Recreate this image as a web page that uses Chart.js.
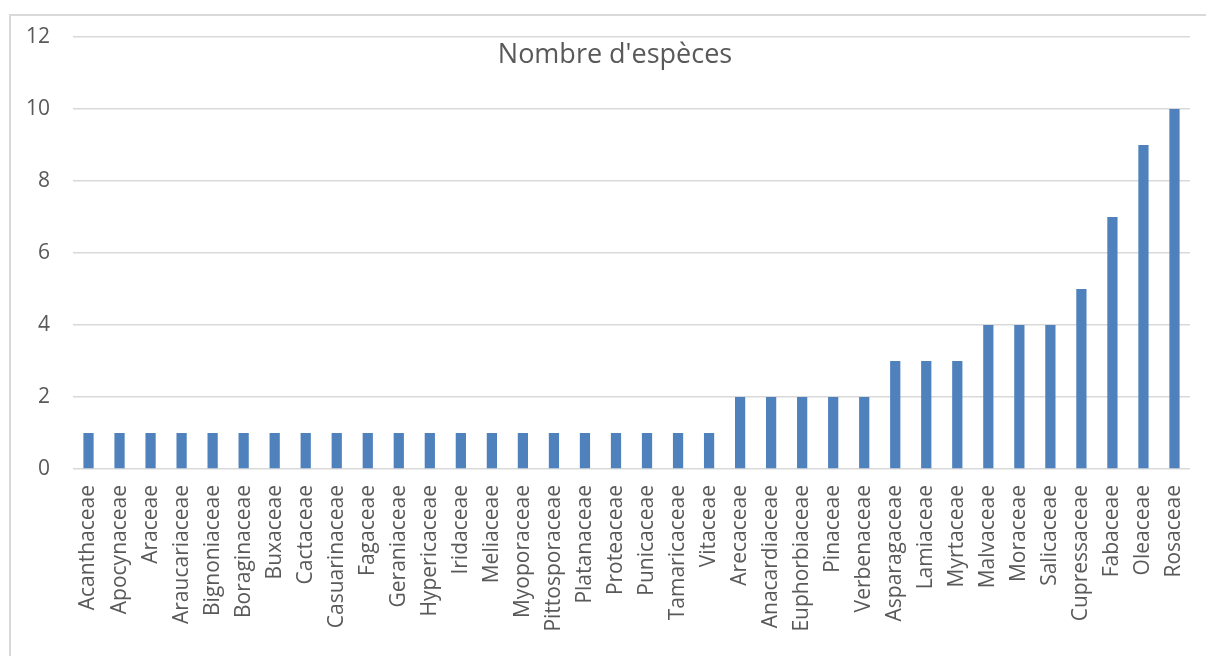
<!DOCTYPE html>
<html lang="fr">
<head>
  <meta charset="UTF-8" />
  <title>Nombre d'espèces par famille</title>
  <script src="https://cdn.jsdelivr.net/npm/chart.js@4"></script>
  <style>
    html, body { margin:0; padding:0; background:#fff; overflow:hidden; }
    #frame { position:absolute; left:9px; top:14px; width:1300px; height:800px; border:2px solid #d9d9d9; box-sizing:border-box; }
    #wrap { position:absolute; left:0; top:0; width:1206px; height:656px; }
  </style>
</head>
<body>
  <div id="frame"></div>
  <div id="wrap"><canvas id="chart"></canvas></div>

  <script>
    // familles (axe des x)
    const families = [
      'Acanthaceae','Apocynaceae','Araceae','Araucariaceae','Bignoniaceae','Boraginaceae',
      'Buxaceae','Cactaceae','Casuarinaceae','Fagaceae','Geraniaceae','Hypericaceae',
      'Iridaceae','Meliaceae','Myoporaceae','Pittosporaceae','Platanaceae','Proteaceae',
      'Punicaceae','Tamaricaceae','Vitaceae','Arecaceae','Anacardiaceae','Euphorbiaceae',
      'Pinaceae','Verbenaceae','Asparagaceae','Lamiaceae','Myrtaceae','Malvaceae',
      'Moraceae','Salicaceae','Cupressaceae','Fabaceae','Oleaceae','Rosaceae'
    ];
    // nombre d'espèces par famille
    const speciesCount = [
      1,1,1,1,1,1,
      1,1,1,1,1,1,
      1,1,1,1,1,1,
      1,1,1,2,2,2,
      2,2,3,3,3,4,
      4,4,5,7,9,10
    ];
    const yTicks = [0, 2, 4, 6, 8, 10, 12];
    const chartTitle = "Nombre d'espèces";

    const FONT = '"Open Sans", sans-serif';
    const TEXT = '#595959';

    // titre dessiné dans la zone du graphique (comme Excel)
    const titleInside = {
      id: 'titleInside',
      afterDraw(chart){
        const ctx = chart.ctx;
        ctx.save();
        ctx.font = '27px ' + FONT;
        ctx.fillStyle = TEXT;
        ctx.textAlign = 'center';
        ctx.textBaseline = 'middle';
        ctx.fillText(chartTitle, 615, 55);
        ctx.restore();
      }
    };

    new Chart(document.getElementById('chart'), {
      type: 'bar',
      data: {
        labels: families,
        datasets: [{
          label: chartTitle,
          data: speciesCount,
          backgroundColor: '#4f81bd',
          borderWidth: 0,
          categoryPercentage: 1,
          barPercentage: 0.33
        }]
      },
      options: {
        responsive: true,
        maintainAspectRatio: false,
        animation: false,
        layout: { padding: { top: 37, right: 16, left: 0, bottom: 0 } },
        plugins: { legend: { display: false }, tooltip: { enabled: false } },
        scales: {
          x: {
            grid: { display: false, drawTicks: false },
            border: { display: false },
            ticks: {
              autoSkip: false, minRotation: 90, maxRotation: 90,
              padding: 16, color: TEXT, font: { family: FONT, size: 21 }
            },
            afterFit(s){ s.height = 187; s.paddingLeft = 0; s.paddingRight = 0; }
          },
          y: {
            min: 0, max: 12,
            afterBuildTicks(s){ s.ticks = yTicks.map(v => ({ value: v })); },
            grid: { color: '#d9d9d9', lineWidth: 1.5, drawTicks: false },
            border: { display: false },
            ticks: { padding: 23, color: TEXT, font: { family: FONT, size: 21 } },
            afterFit(s){ s.width = 73; }
          }
        }
      },
      plugins: [titleInside]
    });
  </script>
</body>
</html>
